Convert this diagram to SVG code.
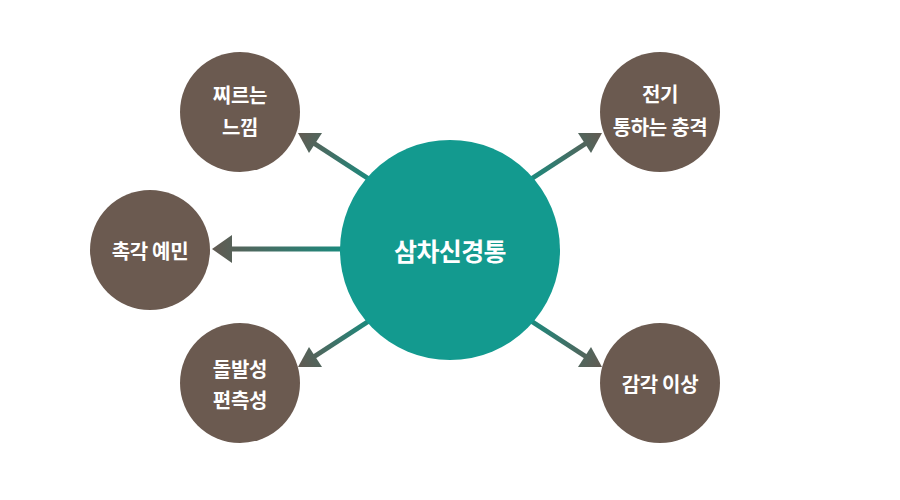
<svg xmlns="http://www.w3.org/2000/svg" width="900" height="500" viewBox="0 0 900 500">
<style>
.sat{fill:#6b5a50}
.hub{fill:#139a8f}
.t{font-family:"Noto Sans CJK KR","Noto Sans",sans-serif;font-weight:bold;fill:#fff;text-anchor:middle}
.ts{font-size:20px;letter-spacing:-0.3px}
.tc{font-size:25px;letter-spacing:-0.6px}
</style>
<defs>
<linearGradient id="gTL" gradientUnits="userSpaceOnUse" x1="370" y1="180" x2="298" y2="133"><stop offset="0" stop-color="#1b8a7d"/><stop offset="1" stop-color="#625a52"/></linearGradient>
<linearGradient id="gTR" gradientUnits="userSpaceOnUse" x1="530" y1="180" x2="602" y2="133"><stop offset="0" stop-color="#1b8a7d"/><stop offset="1" stop-color="#625a52"/></linearGradient>
<linearGradient id="gBL" gradientUnits="userSpaceOnUse" x1="370" y1="320" x2="298" y2="367"><stop offset="0" stop-color="#1b8a7d"/><stop offset="1" stop-color="#625a52"/></linearGradient>
<linearGradient id="gBR" gradientUnits="userSpaceOnUse" x1="530" y1="320" x2="602" y2="367"><stop offset="0" stop-color="#1b8a7d"/><stop offset="1" stop-color="#625a52"/></linearGradient>
<linearGradient id="gL" gradientUnits="userSpaceOnUse" x1="342" y1="249" x2="212" y2="249"><stop offset="0" stop-color="#1b8a7d"/><stop offset="1" stop-color="#625a52"/></linearGradient>
</defs>
<rect width="900" height="500" fill="#fff"/>
<g id="connectors">
<g id="c-tl"><line x1="372" y1="181" x2="312" y2="142" stroke="url(#gTL)" stroke-width="5"/><polygon points="298,133 322,133 309,153" fill="url(#gTL)"/></g>
<g id="c-tr"><line x1="528" y1="181" x2="588" y2="142" stroke="url(#gTR)" stroke-width="5"/><polygon points="602,133 578,133 591,153" fill="url(#gTR)"/></g>
<g id="c-bl"><line x1="372" y1="319" x2="312" y2="358" stroke="url(#gBL)" stroke-width="5"/><polygon points="298,367 322,367 309,347" fill="url(#gBL)"/></g>
<g id="c-br"><line x1="528" y1="319" x2="588" y2="358" stroke="url(#gBR)" stroke-width="5"/><polygon points="602,367 578,367 591,347" fill="url(#gBR)"/></g>
<g id="c-l"><line x1="345" y1="249" x2="228" y2="249" stroke="url(#gL)" stroke-width="5"/><polygon points="212,249 232,235 232,263" fill="url(#gL)"/></g>
</g>
<g id="hub"><circle class="hub" cx="450" cy="250" r="110"/><text class="t tc" x="450" y="261">삼차신경통</text></g>
<g id="n-tl"><circle class="sat" cx="240" cy="112" r="60"/><text class="t ts" x="240" y="103">찌르는</text><text class="t ts" x="240" y="135">느낌</text></g>
<g id="n-l"><circle class="sat" cx="150" cy="250" r="60"/><text class="t ts" x="150" y="259">촉각 예민</text></g>
<g id="n-bl"><circle class="sat" cx="240" cy="383" r="60"/><text class="t ts" x="240" y="377">돌발성</text><text class="t ts" x="240" y="408">편측성</text></g>
<g id="n-tr"><circle class="sat" cx="660" cy="112" r="60"/><text class="t ts" x="660" y="102">전기</text><text class="t ts" x="660" y="135">통하는 충격</text></g>
<g id="n-br"><circle class="sat" cx="660" cy="383" r="60"/><text class="t ts" x="660" y="392">감각 이상</text></g>
</svg>
